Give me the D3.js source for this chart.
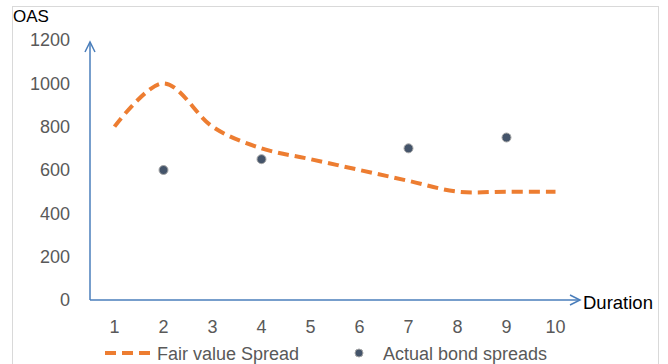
<!DOCTYPE html>
<html>
<head>
<meta charset="utf-8">
<script src="https://cdn.jsdelivr.net/npm/d3@7"></script>
<style>
  html, body { margin: 0; padding: 0; background: #fff; }
  svg { display: block; font-family: "Liberation Sans", Arial, sans-serif; }
</style>
</head>
<body>
<svg id="chart" width="668" height="364"></svg>
<script>
// Duration buckets and spreads (bps)
const durations = [1, 2, 3, 4, 5, 6, 7, 8, 9, 10];
const fairValueSpread = [800, 1000, 800, 700, 650, 600, 550, 500, 500, 500];
const actualDurations = [2, 4, 7, 9];
const actualSpreads = [600, 650, 700, 750];
const yTicks = [0, 200, 400, 600, 800, 1000, 1200];
const legendLabels = ["Fair value Spread", "Actual bond spreads"];

const svg = d3.select("#chart");
const axisColor = "#4A7EBB";
const lineColor = "#ED7D31";
const dotColor = "#44546A";
const labelColor = "#595959";

// outer frame
svg.append("rect")
  .attr("x", 12.5).attr("y", 6.5)
  .attr("width", 646).attr("height", 380)
  .attr("fill", "none").attr("stroke", "#D9D9D9").attr("stroke-width", 1);

const x = d3.scaleBand().domain(durations).range([90, 580]);
const y = d3.scaleLinear().domain([0, 1200]).range([300, 40]);
const cx = d => x(d) + x.bandwidth() / 2;

// y tick labels
const yAxis = d3.axisLeft(y).tickValues(yTicks).tickFormat(d3.format("d"))
  .tickSize(0).tickPadding(20);
const gy = svg.append("g").attr("transform", "translate(90,0)").call(yAxis);
gy.select(".domain").remove();
gy.selectAll("text").attr("fill", labelColor).style("font-size", "18px")
  .style("font-family", "Liberation Sans, Arial, sans-serif");

// x tick labels
const xAxis = d3.axisBottom(x).tickSize(0).tickPadding(20);
const gx = svg.append("g").attr("transform", "translate(0,300)").call(xAxis);
gx.select(".domain").remove();
gx.selectAll("text").attr("fill", labelColor).style("font-size", "18px")
  .style("font-family", "Liberation Sans, Arial, sans-serif");

// axis arrows
const axisG = svg.append("g").attr("fill", "none").attr("stroke", axisColor)
  .attr("stroke-width", 1.5);
const y0 = y(0), yTop = 42, xEnd = 580;
axisG.append("line").attr("x1", 90).attr("y1", y0).attr("x2", 90).attr("y2", yTop);
axisG.append("path").attr("d", `M${90 - 5},${yTop + 10}L90,${yTop}L${90 + 5},${yTop + 10}`);
axisG.append("line").attr("x1", 90).attr("y1", y0).attr("x2", xEnd).attr("y2", y0);
axisG.append("path").attr("d", `M${xEnd - 10},${y0 - 5}L${xEnd},${y0}L${xEnd - 10},${y0 + 5}`);

// axis titles
svg.append("text").attr("x", 13).attr("y", 22).text("OAS")
  .attr("fill", "#000").style("font-size", "17px");
svg.append("text").attr("x", 583).attr("y", 309).text("Duration")
  .attr("fill", "#000").style("font-size", "18.5px");

// fair value curve
const line = d3.line()
  .x((d, i) => cx(durations[i]))
  .y(d => y(d))
  .curve(d3.curveCardinal.tension(0));
svg.append("path")
  .datum(fairValueSpread)
  .attr("d", line)
  .attr("fill", "none").attr("stroke", lineColor)
  .attr("stroke-width", 4).attr("stroke-dasharray", "11,6")
  .attr("stroke-linecap", "butt");

// actual bond spreads
svg.append("g").selectAll("circle")
  .data(actualSpreads)
  .join("circle")
  .attr("cx", (d, i) => cx(actualDurations[i]))
  .attr("cy", d => y(d))
  .attr("r", 4.5)
  .attr("fill", dotColor)
  .attr("stroke", "#A6A6A6").attr("stroke-width", 1);

// legend
const lg = svg.append("g");
lg.append("line").attr("x1", 105).attr("x2", 150).attr("y1", 353).attr("y2", 353)
  .attr("stroke", lineColor).attr("stroke-width", 4).attr("stroke-dasharray", "11,6");
lg.append("text").attr("x", 157).attr("y", 359.5).text(legendLabels[0])
  .attr("fill", labelColor).style("font-size", "18px");
lg.append("circle").attr("cx", 359).attr("cy", 353).attr("r", 4)
  .attr("fill", dotColor).attr("stroke", "#A6A6A6").attr("stroke-width", 1);
lg.append("text").attr("x", 383).attr("y", 359.5).text(legendLabels[1])
  .attr("fill", labelColor).style("font-size", "18px");
</script>
</body>
</html>
